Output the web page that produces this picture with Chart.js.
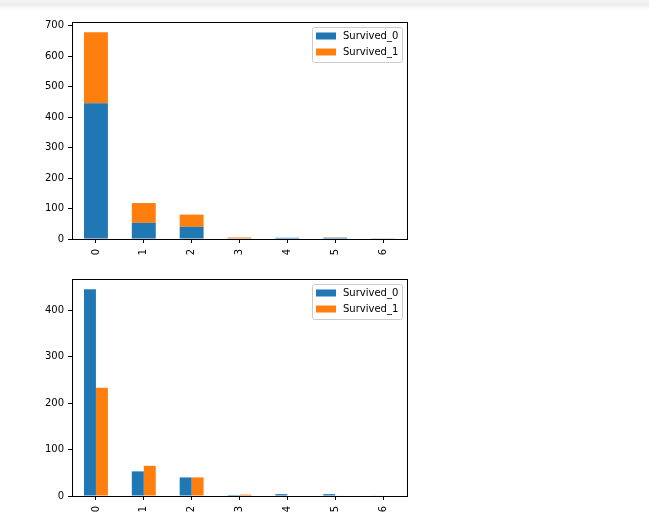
<!DOCTYPE html>
<html>
<head>
<meta charset="utf-8">
<script src="https://cdn.jsdelivr.net/npm/chart.js@4"></script>
<style>
  html, body { margin: 0; padding: 0; background: #fff; }
  body { width: 649px; height: 519px; position: relative; overflow: hidden; }
  #shade { position: absolute; left: 0; top: 0; width: 649px; height: 9px;
           background: linear-gradient(to bottom, #f4f4f4 0%, #ececec 50%, #ffffff 100%); }
  canvas { position: absolute; left: 0; }
</style>
</head>
<body>
<div id="shade"></div>
<canvas id="c1" width="420" height="262" style="top:0px"></canvas>
<canvas id="c2" width="420" height="257" style="top:262px"></canvas>
<script>
const categories = ["0", "1", "2", "3", "4", "5", "6"];
const survived0 = [445, 53, 40, 2, 4, 4, 1];
const survived1 = [233, 65, 40, 3, 0, 1, 0];
const seriesLabels = ["Survived_0", "Survived_1"];
const colors = ["#1f77b4", "#ff7f0e"];
const yTicksTop = [0, 100, 200, 300, 400, 500, 600, 700];
const yTicksBottom = [0, 100, 200, 300, 400];

const FONT = { family: "DejaVu Sans", size: 10 };

const framePlugin = {
  id: 'frame',
  afterDraw(chart) {
    const { ctx, chartArea: a } = chart;
    ctx.save();
    ctx.strokeStyle = '#000';
    ctx.lineWidth = 1;
    ctx.strokeRect(Math.round(a.left) + 0.5, Math.round(a.top) + 0.5,
                   Math.round(a.right - a.left), Math.round(a.bottom - a.top));
    // legend
    const bw = 90, bh = 35;
    const bx = a.right - 5 - bw, by = a.top + 5;
    ctx.fillStyle = 'rgba(255,255,255,0.8)';
    ctx.strokeStyle = '#cccccc';
    ctx.beginPath();
    if (ctx.roundRect) ctx.roundRect(bx + 0.5, by + 0.5, bw, bh, 2); else ctx.rect(bx + 0.5, by + 0.5, bw, bh);
    ctx.fill();
    ctx.stroke();
    ctx.font = '10px "DejaVu Sans"';
    ctx.textBaseline = 'middle';
    chart.data.datasets.forEach((ds, i) => {
      const cy = by + 9 + i * 16;
      ctx.fillStyle = ds.backgroundColor;
      ctx.fillRect(bx + 4, cy - 3.5, 20, 7);
      ctx.fillStyle = '#000';
      ctx.fillText(ds.label, bx + 31, cy + 0.5);
    });
    ctx.restore();
  }
};

function makeChart(id, stacked, yMax, yTicks, padTop, xAxisHeight) {
  return new Chart(document.getElementById(id), {
    type: 'bar',
    data: {
      labels: categories,
      datasets: [
        { label: seriesLabels[0], data: survived0, backgroundColor: colors[0],
          categoryPercentage: 0.5, barPercentage: 1.0, borderWidth: 0 },
        { label: seriesLabels[1], data: survived1, backgroundColor: colors[1],
          categoryPercentage: 0.5, barPercentage: 1.0, borderWidth: 0 }
      ]
    },
    options: {
      responsive: false,
      animation: false,
      layout: { padding: { top: padTop, right: 13, left: 0, bottom: 0 } },
      plugins: { legend: { display: false }, tooltip: { enabled: false } },
      scales: {
        x: {
          stacked: stacked,
          offset: true,
          grid: { display: true, drawOnChartArea: false, drawTicks: true, tickLength: 4,
                  color: '#000', offset: false },
          border: { display: false },
          ticks: { color: '#000', font: FONT, minRotation: 90, maxRotation: 90, padding: 6 },
          afterFit(scale) { scale.height = xAxisHeight; }
        },
        y: {
          stacked: stacked,
          min: 0,
          max: yMax,
          grid: { display: true, drawOnChartArea: false, drawTicks: true, tickLength: 4, color: '#000' },
          border: { display: false },
          ticks: { color: '#000', font: FONT, padding: 4 },
          afterBuildTicks(scale) { scale.ticks = yTicks.map(v => ({ value: v })); },
          afterFit(scale) { scale.width = 72; }
        }
      }
    },
    plugins: [framePlugin]
  });
}

const totals = survived0.map((v, i) => v + survived1[i]);
const topMax = Math.max(...totals) * 1.05;
const bottomMax = Math.max(...survived0, ...survived1) * 1.05;

makeChart('c1', true, topMax, yTicksTop, 22, 23);
makeChart('c2', false, bottomMax, yTicksBottom, 17, 23);
</script>
</body>
</html>
